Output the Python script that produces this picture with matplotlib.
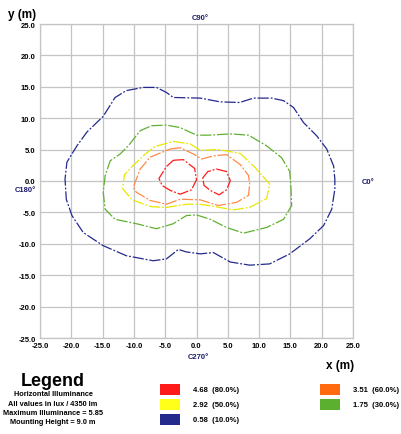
import numpy as np
import matplotlib
matplotlib.use("Agg")
import matplotlib.pyplot as plt
from matplotlib.patches import Rectangle

# Isolux contours (x, y in metres)
blue_x = [-8.5, -6.4, -4.8, -3.7, 0.6, 3.8, 6.9, 9.1, 12.0, 13.9, 15.5, 17.1, 19.2, 20.8, 21.9, 22.1,
          22.1, 21.6, 20.3, 18.1, 14.9, 11.7, 8.5, 5.4, 2.7, 0.6, -1.6, -2.9, -4.8, -6.9,
          -11.2, -14.9, -18.1, -19.9, -20.8, -21.0, -20.7, -19.1, -17.5, -14.9, -13.0, -11.2, -8.5]
blue_y = [14.9, 14.9, 14.1, 13.3, 13.2, 12.6, 12.5, 13.2, 13.2, 12.8, 11.7, 9.3, 7.2, 5.1, 2.4, 0.3,
          -1.3, -4.5, -7.1, -9.2, -11.6, -13.2, -13.4, -12.9, -11.4, -11.6, -11.3, -10.9, -12.4, -12.7,
          -11.9, -10.3, -8.2, -5.5, -2.9, 0.3, 3.0, 5.6, 7.8, 10.3, 13.3, 14.4, 14.9]

green_x = [-7.2, -4.8, -2.6, 0.0, 2.0, 5.4, 8.3, 11.2, 13.6, 14.9, 15.1, 15.2, 13.9, 11.2, 7.5,
           4.8, 2.2, 0.0, -1.6, -3.7, -6.4, -9.6, -13.0, -14.6, -14.9, -14.6, -13.8, -12.2, -10.9, -9.0, -7.2]
green_y = [8.8, 8.9, 8.5, 7.3, 7.3, 7.5, 7.3, 5.6, 3.7, 1.5, -1.3, -3.9, -6.1, -7.4, -8.3,
           -7.4, -6.1, -5.4, -5.5, -6.8, -7.6, -6.8, -6.1, -4.5, -1.8, 0.8, 3.2, 4.3, 5.6, 8.0, 8.8]

yellow_x = [-3.7, -1.0, 0.6, 3.5, 7.0, 9.5, 11.7, 11.2, 8.5, 5.9, 2.5, 0.6, -1.6, -4.8, -7.2,
            -10.3, -11.8, -11.5, -10.3, -8.3, -6.6, -3.7]
yellow_y = [6.3, 5.9, 4.9, 5.0, 4.4, 2.0, -0.5, -2.8, -4.2, -4.6, -4.0, -3.7, -3.7, -4.2, -4.1,
            -3.0, -1.2, 1.0, 2.3, 4.2, 5.5, 6.3]

orange_x = [-4.2, -2.6, -0.5, 0.8, 2.7, 4.8, 7.0, 8.3, 8.5, 8.3, 6.4, 3.5, 0.6, -2.6, -4.8,
            -7.4, -9.6, -10.1, -9.0, -7.4, -4.2]
orange_y = [5.1, 5.3, 4.3, 3.5, 4.0, 4.2, 2.6, 0.9, -0.5, -2.3, -3.4, -3.9, -3.0, -2.9, -3.7,
            -3.1, -1.8, -1.0, 1.9, 3.8, 5.1]

red1_x = [-3.7, -2.1, -0.3, 0.0, -0.8, -2.6, -4.2, -5.5, -6.0, -4.8, -3.7]
red1_y = [3.3, 3.4, 2.0, 0.2, -1.4, -2.1, -1.5, -0.7, 0.4, 2.3, 3.3]
red2_x = [1.0, 1.8, 3.2, 4.8, 5.4, 4.8, 3.6, 2.2, 1.2, 1.0]
red2_y = [0.5, 1.5, 1.9, 1.5, 0.05, -1.4, -2.2, -1.5, -0.7, 0.5]

levels = ["4.68  (80.0%)", "3.51  (60.0%)", "2.92  (50.0%)", "1.75  (30.0%)", "0.58  (10.0%)"]
ticks = np.arange(-25, 26, 5)

col_red = "#ff1a1a"
col_orange = "#ff8a4a"
col_yellow = "#e8e800"
col_green = "#62b032"
col_blue = "#242a8c"
navy = "#1c1c6e"

fig = plt.figure(figsize=(4.01, 4.35), dpi=100)
ax = fig.add_axes([40 / 401, 1 - 339 / 435, 313 / 401, 314 / 435])

ls = (0, (9, 1.5, 1.5, 1.5))
ax.plot(blue_x, blue_y, color=col_blue, lw=0.9, ls=ls)
ax.plot(green_x, green_y, color=col_green, lw=0.9, ls=ls)
ax.plot(yellow_x, yellow_y, color=col_yellow, lw=0.9, ls=ls)
ax.plot(orange_x, orange_y, color=col_orange, lw=0.9, ls=ls)
ax.plot(red1_x, red1_y, color=col_red, lw=0.9, ls=ls)
ax.plot(red2_x, red2_y, color=col_red, lw=0.9, ls=ls)

ax.set_xlim(-25, 25)
ax.set_ylim(-25, 25)
ax.set_xticks(ticks)
ax.set_yticks(ticks)
ax.set_xticklabels([f"{t:.1f}" for t in ticks], fontsize=5.5, fontweight="bold")
ax.set_yticklabels([f"{t:.1f}" for t in ticks], fontsize=5.5, fontweight="bold")
ax.tick_params(length=0, pad=3)
ax.grid(True, color="#c4c4c4", lw=0.9)
for s in ax.spines.values():
    s.set_color("#c4c4c4")
    s.set_linewidth(0.9)
ax.set_axisbelow(True)

def px(x, y):
    return x / 401, 1 - y / 435

font = "Liberation Sans"
fig.text(*px(22, 15), "y (m)", fontsize=8.5, fontweight="bold", ha="center", va="center", family=font)
fig.text(*px(340, 366), "x (m)", fontsize=8.5, fontweight="bold", ha="center", va="center", family=font)
fig.text(*px(200, 18), "C90°", fontsize=5.5, fontweight="bold", color=navy, ha="center", va="center", family=font)
fig.text(*px(368, 183), "C0°", fontsize=5.5, fontweight="bold", color=navy, ha="center", va="center", family=font)
fig.text(*px(25, 191), "C180°", fontsize=5.5, fontweight="bold", color=navy, ha="center", va="center", family=font)
fig.text(*px(198, 358), "C270°", fontsize=5.5, fontweight="bold", color=navy, ha="center", va="center", family=font)

fig.text(*px(53, 382), "Legend", fontsize=13, fontweight="bold", ha="center", va="center", family=font)
info = ["Horizontal Illuminance", "All values in lux / 4350 lm",
        "Maximum Illuminance = 5.85", "Mounting Height = 9.0 m"]
for i, line in enumerate(info):
    fig.text(*px(53, 395 + i * 9.3), line, fontsize=5.3, fontweight="bold", ha="center", va="center", family=font)

boxes = [(160, 385, col_red, levels[0]), (160, 400, "#ffff1a", levels[2]), (160, 415, col_blue, levels[4]),
         (320, 385, "#ff6a10", levels[1]), (320, 400, "#5cb030", levels[3])]
for bx, by, c, lab in boxes:
    x0, y0 = px(bx, by + 11)
    fig.patches.append(Rectangle((x0, y0), 20 / 401, 11 / 435, transform=fig.transFigure,
                                 facecolor=c, edgecolor="none"))
    fig.text(*px(bx + 33, by + 5.5), lab, fontsize=5.5, fontweight="bold", ha="left", va="center", family=font)

for lab in ax.get_xticklabels() + ax.get_yticklabels():
    lab.set_family(font)

fig.savefig("out.png", dpi=100)
